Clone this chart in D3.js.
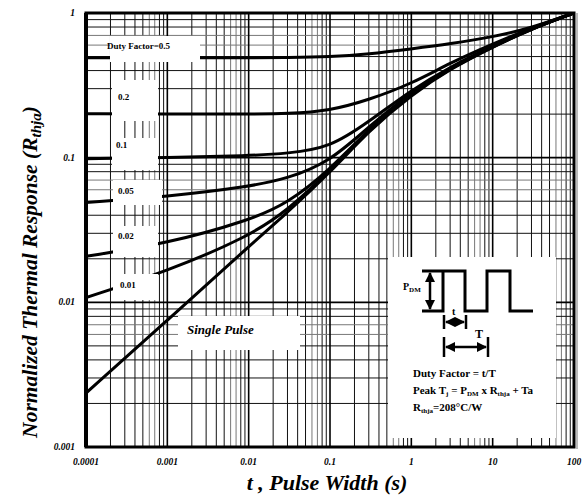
<!DOCTYPE html>
<html>
<head>
<meta charset="utf-8">
<script src="https://cdn.jsdelivr.net/npm/d3@7"></script>
<style>
  body { margin: 0; background: #fff; }
  text { font-family: "Liberation Serif", "Times New Roman", serif; font-weight: bold; }
</style>
</head>
<body>
<svg width="584" height="497"></svg>
<script>
// pulse widths (s) the curves were read at
var pulseWidth = [1e-4, 1e-3, 1e-2, 0.03, 0.1, 0.3, 1, 3, 10, 30, 100];

// normalized thermal response for each duty factor
var duty50 = [0.49, 0.49, 0.49, 0.492, 0.497, 0.52, 0.565, 0.611, 0.683, 0.788, 1];
var duty20 = [0.201, 0.2, 0.2, 0.201, 0.211, 0.251, 0.324, 0.452, 0.611, 0.788, 1];
var duty10 = [0.0984, 0.1, 0.103, 0.107, 0.117, 0.177, 0.294, 0.424, 0.592, 0.785, 1];
var duty05 = [0.049, 0.0538, 0.063, 0.0716, 0.0938, 0.1637, 0.285, 0.418, 0.59, 0.782, 1];
var duty02 = [0.0208, 0.0255, 0.0368, 0.0482, 0.0826, 0.158, 0.28, 0.416, 0.588, 0.78, 1];
var duty01 = [0.0108, 0.0164, 0.0285, 0.0431, 0.081, 0.156, 0.276, 0.414, 0.585, 0.778, 1];
var singlePulse = [0.00236, 0.00751, 0.0243, 0.0418, 0.0788, 0.1535, 0.272, 0.411, 0.583, 0.776, 1];

var xTicks = [1e-4, 1e-3, 1e-2, 0.1, 1, 10, 100];
var xTickLabels = ["0.0001", "0.001", "0.01", "0.1", "1", "10", "100"];
var yTicks = [0.001, 0.01, 0.1, 1];
var yTickLabels = ["0.001", "0.01", "0.1", "1"];

var svg = d3.select("svg"),
    pl = 86, pr = 574, pt = 13, pb = 447;

var x = d3.scaleLog().domain([1e-4, 100]).range([pl, pr]);
var y = d3.scaleLog().domain([0.001, 1]).range([pb, pt]);

// log grid
var minorX = [], minorY = [];
for (var e = -4; e < 2; e++)
  for (var m = 2; m < 10; m++) minorX.push({v: m * Math.pow(10, e), m: m});
for (var e = -3; e < 0; e++)
  for (var m = 2; m < 10; m++) minorY.push({v: m * Math.pow(10, e), m: m});

var grid = svg.append("g");
grid.selectAll(".gx").data(minorX).enter().append("line")
  .attr("x1", d => x(d.v)).attr("x2", d => x(d.v))
  .attr("y1", pt).attr("y2", pb)
  .attr("stroke", d => d.m > 5 && d.m < 8 ? "#777" : "#111")
  .attr("stroke-width", 1);
grid.selectAll(".gy").data(minorY).enter().append("line")
  .attr("x1", pl).attr("x2", pr)
  .attr("y1", d => y(d.v)).attr("y2", d => y(d.v))
  .attr("stroke", d => d.m > 5 && d.m < 8 ? "#777" : "#111")
  .attr("stroke-width", 1);
grid.selectAll(".mx").data(xTicks).enter().append("line")
  .attr("x1", d => x(d)).attr("x2", d => x(d))
  .attr("y1", pt).attr("y2", pb)
  .attr("stroke", "#000").attr("stroke-width", 1.6);
grid.selectAll(".my").data(yTicks).enter().append("line")
  .attr("x1", pl).attr("x2", pr)
  .attr("y1", d => y(d)).attr("y2", d => y(d))
  .attr("stroke", "#000").attr("stroke-width", 1.6);

// curves
var series = [duty50, duty20, duty10, duty05, duty02, duty01, singlePulse];
var line = d3.line()
  .x((d, i) => x(pulseWidth[i]))
  .y(d => y(d))
  .curve(d3.curveBasis);

svg.append("clipPath").attr("id", "plot")
  .append("rect").attr("x", pl).attr("y", pt)
  .attr("width", pr - pl).attr("height", pb - pt);

svg.append("g").attr("clip-path", "url(#plot)")
  .selectAll("path").data(series).enter().append("path")
  .attr("d", line)
  .attr("fill", "none")
  .attr("stroke", "#000")
  .attr("stroke-width", 3);

// white patches behind the labels
var boxes = [
  [110, 36, 200, 62], [112, 80, 158, 121], [112, 138, 158, 170],
  [113, 180, 162, 205], [113, 226, 158, 257], [113, 274, 158, 300],
  [178, 316, 300, 350], [388, 257, 556, 438]
];
svg.selectAll(".box").data(boxes).enter().append("rect")
  .attr("x", d => d[0]).attr("y", d => d[1])
  .attr("width", d => d[2] - d[0]).attr("height", d => d[3] - d[1])
  .attr("fill", "#fff");

// frame
svg.append("rect").attr("x", pl).attr("y", pt)
  .attr("width", pr - pl).attr("height", pb - pt)
  .attr("fill", "none").attr("stroke", "#000").attr("stroke-width", 3);
svg.append("line").attr("x1", pl).attr("x2", pl)
  .attr("y1", pt).attr("y2", pb)
  .attr("stroke", "#000").attr("stroke-width", 4);
svg.append("line").attr("x1", pr + 3).attr("x2", pr + 3)
  .attr("y1", pt).attr("y2", pb + 2)
  .attr("stroke", "#bbb").attr("stroke-width", 2);

// tick labels
svg.selectAll(".xl").data(xTicks).enter().append("text")
  .attr("x", d => x(d)).attr("y", 465)
  .attr("text-anchor", "middle")
  .attr("font-size", 9.5).attr("font-style", "italic")
  .text((d, i) => xTickLabels[i]);
svg.selectAll(".yl").data(yTicks).enter().append("text")
  .attr("x", 75).attr("y", d => y(d) + 3)
  .attr("text-anchor", "end")
  .attr("font-size", 9.5).attr("font-style", "italic")
  .text((d, i) => yTickLabels[i]);

// axis titles
svg.append("text")
  .attr("x", 327).attr("y", 490)
  .attr("text-anchor", "middle")
  .attr("font-size", 22).attr("font-style", "italic")
  .text("t , Pulse Width (s)");

var yt = svg.append("text")
  .attr("transform", "translate(37,272) rotate(-90)")
  .attr("text-anchor", "middle")
  .attr("font-size", 21.5).attr("font-style", "italic");
yt.append("tspan").text("Normalized Thermal Response (R");
yt.append("tspan").attr("font-size", 15).attr("dy", 4).text("thja");
yt.append("tspan").attr("dy", -4).text(")");

// curve labels
var curveLabels = [
  ["Duty Factor=0.5", 107, 49], ["0.2", 118, 100], ["0.1", 116, 148],
  ["0.05", 118, 194], ["0.02", 118, 239], ["0.01", 120, 288]
];
svg.selectAll(".cl").data(curveLabels).enter().append("text")
  .attr("x", d => d[1]).attr("y", d => d[2])
  .attr("font-size", 9)
  .text(d => d[0]);

svg.append("text").attr("x", 187).attr("y", 334)
  .attr("font-size", 13).attr("font-style", "italic")
  .text("Single Pulse");

// inset: pulse train sketch
var inset = svg.append("g");
inset.append("path")
  .attr("d", "M422,311H443V271H465V311H487V271H510V311H533M422,271H443")
  .attr("fill", "none").attr("stroke", "#000").attr("stroke-width", 3);

svg.append("defs").append("marker")
  .attr("id", "ah").attr("viewBox", "0 0 10 10")
  .attr("refX", 9).attr("refY", 5)
  .attr("markerWidth", 4).attr("markerHeight", 4)
  .attr("orient", "auto-start-reverse")
  .append("path").attr("d", "M0,0L10,5L0,10z").attr("fill", "#000");

function arrow(x1, y1, x2, y2) {
  inset.append("line").attr("x1", x1).attr("y1", y1).attr("x2", x2).attr("y2", y2)
    .attr("stroke", "#000").attr("stroke-width", 2.5)
    .attr("marker-start", "url(#ah)").attr("marker-end", "url(#ah)");
}
function bar(bx, y1, y2) {
  inset.append("line").attr("x1", bx).attr("x2", bx).attr("y1", y1).attr("y2", y2)
    .attr("stroke", "#000").attr("stroke-width", 2.5);
}
arrow(430, 273, 430, 309);
bar(444, 315, 329); bar(466, 315, 329);
arrow(446, 322, 464, 322);
bar(444, 337, 357); bar(488, 337, 357);
arrow(446, 347, 486, 347);

var pdm = inset.append("text").attr("x", 403).attr("y", 290).attr("font-size", 10);
pdm.append("tspan").text("P");
pdm.append("tspan").attr("font-size", 7).attr("dy", 2).text("DM");
inset.append("text").attr("x", 452).attr("y", 315).attr("font-size", 10).text("t");
inset.append("text").attr("x", 475).attr("y", 338).attr("font-size", 12).text("T");

inset.append("text").attr("x", 413).attr("y", 377).attr("font-size", 11)
  .text("Duty Factor = t/T");
var pk = inset.append("text").attr("x", 413).attr("y", 394).attr("font-size", 11);
pk.append("tspan").text("Peak T");
pk.append("tspan").attr("font-size", 7).attr("dy", 2).text("j");
pk.append("tspan").attr("dy", -2).text(" = P");
pk.append("tspan").attr("font-size", 7).attr("dy", 2).text("DM");
pk.append("tspan").attr("dy", -2).text(" x R");
pk.append("tspan").attr("font-size", 7).attr("dy", 2).text("thja");
pk.append("tspan").attr("dy", -2).text(" + Ta");
var rt = inset.append("text").attr("x", 413).attr("y", 411).attr("font-size", 11);
rt.append("tspan").text("R");
rt.append("tspan").attr("font-size", 7).attr("dy", 2).text("thja");
rt.append("tspan").attr("dy", -2).text("=208°C/W");
</script>
</body>
</html>
